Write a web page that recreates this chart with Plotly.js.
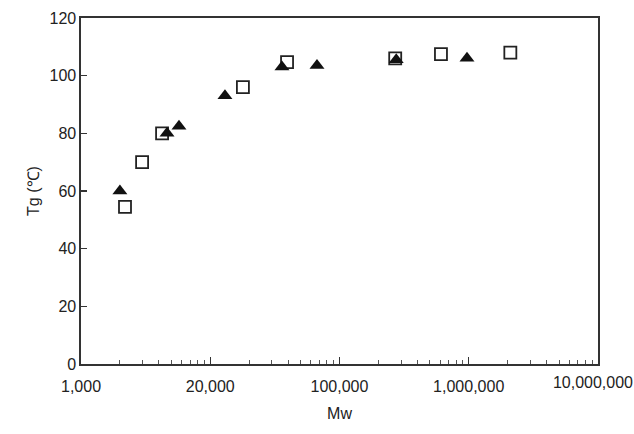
<!DOCTYPE html>
<html>
<head>
<meta charset="utf-8">
<script src="https://cdn.plot.ly/plotly-3.0.1.min.js"></script>
<style>html,body{margin:0;padding:0;background:#fff;}#chart{width:634px;height:434px;}</style>
</head>
<body>
<div id="chart"></div>
<script>
const squareMw = [2190, 2970, 4240, 17900, 39300, 270000, 610000, 2100000];
const squareTg = [54.5, 70, 80, 96, 104.7, 106, 107.5, 108];
const triangleMw = [2000, 4630, 5730, 13000, 35900, 67000, 275000, 970000];
const triangleTg = [60, 80, 82.5, 93, 103, 103.5, 105.5, 106];
const xTickVals = [1000, 10000, 100000, 1000000, 10000000];
const xTickText = ["1,000", "20,000", "100,000", "1,000,000", "10,000,000"];
const yTickVals = [0, 20, 40, 60, 80, 100, 120];
const minorDigits = [2, 3, 4, 5, 6, 7, 8, 9];

const minorVals = [];
xTickVals.slice(0, -1).forEach(d => minorDigits.forEach(m => minorVals.push(d * m)));
const n = xTickVals.length;

const traces = [
  {x: squareMw, y: squareTg, type: 'scatter', mode: 'markers', name: 'square',
   marker: {symbol: 'square-open', size: 12, color: '#222', line: {width: 1.8, color: '#222'}}},
  {x: triangleMw, y: triangleTg, type: 'scatter', mode: 'markers', name: 'triangle',
   marker: {symbol: 'triangle-up', size: 13, color: '#111', line: {width: 0}}},
  {x: [], y: [], xaxis: 'x2', yaxis: 'y', type: 'scatter', mode: 'markers', showlegend: false},
  {x: [], y: [], xaxis: 'x3', yaxis: 'y', type: 'scatter', mode: 'markers', showlegend: false}
];
const font = {family: 'Liberation Sans, Arial, sans-serif', size: 16, color: '#222'};
const xr = [3, 7.0005];
const layout = {
  width: 634, height: 434,
  margin: {l: 81, r: 36, t: 18, b: 70},
  paper_bgcolor: '#fff', plot_bgcolor: '#fff',
  showlegend: false,
  font: font,
  xaxis: {
    type: 'log', range: xr,
    tickvals: xTickVals.slice(0, n - 1), ticktext: xTickText.slice(0, n - 1),
    ticks: 'inside', ticklen: 7, tickwidth: 1.2, tickcolor: '#333',
    ticklabelstandoff: 7,
    showgrid: false, zeroline: false,
    showline: true, mirror: true, linecolor: '#333', linewidth: 1.6,
    tickfont: font,
    title: {text: 'Mw', font: font, standoff: 14}
  },
  xaxis2: {
    type: 'log', range: xr, overlaying: 'x', side: 'bottom', anchor: 'y',
    tickvals: minorVals, showticklabels: false,
    ticks: 'inside', ticklen: 4, tickwidth: 1, tickcolor: '#555',
    showgrid: false, zeroline: false, showline: false
  },
  xaxis3: {
    type: 'log', range: xr, overlaying: 'x', side: 'bottom', anchor: 'y',
    tickvals: xTickVals.slice(n - 1), ticktext: xTickText.slice(n - 1),
    ticks: 'inside', ticklen: 7, tickwidth: 1.2, tickcolor: '#333',
    ticklabelstandoff: 7, ticklabelshift: -5, ticklabeloverflow: 'allow',
    tickfont: font,
    showgrid: false, zeroline: false, showline: false
  },
  yaxis: {
    range: [0, 120], tickvals: yTickVals,
    ticks: 'inside', ticklen: 6, tickwidth: 1.2, tickcolor: '#333',
    showgrid: false, zeroline: false,
    showline: true, mirror: true, linecolor: '#333', linewidth: 1.6,
    tickfont: font,
    title: {text: 'Tg (℃)', font: font, standoff: 6}
  }
};
Plotly.newPlot('chart', traces, layout, {displayModeBar: false, staticPlot: true});
</script>
</body>
</html>
